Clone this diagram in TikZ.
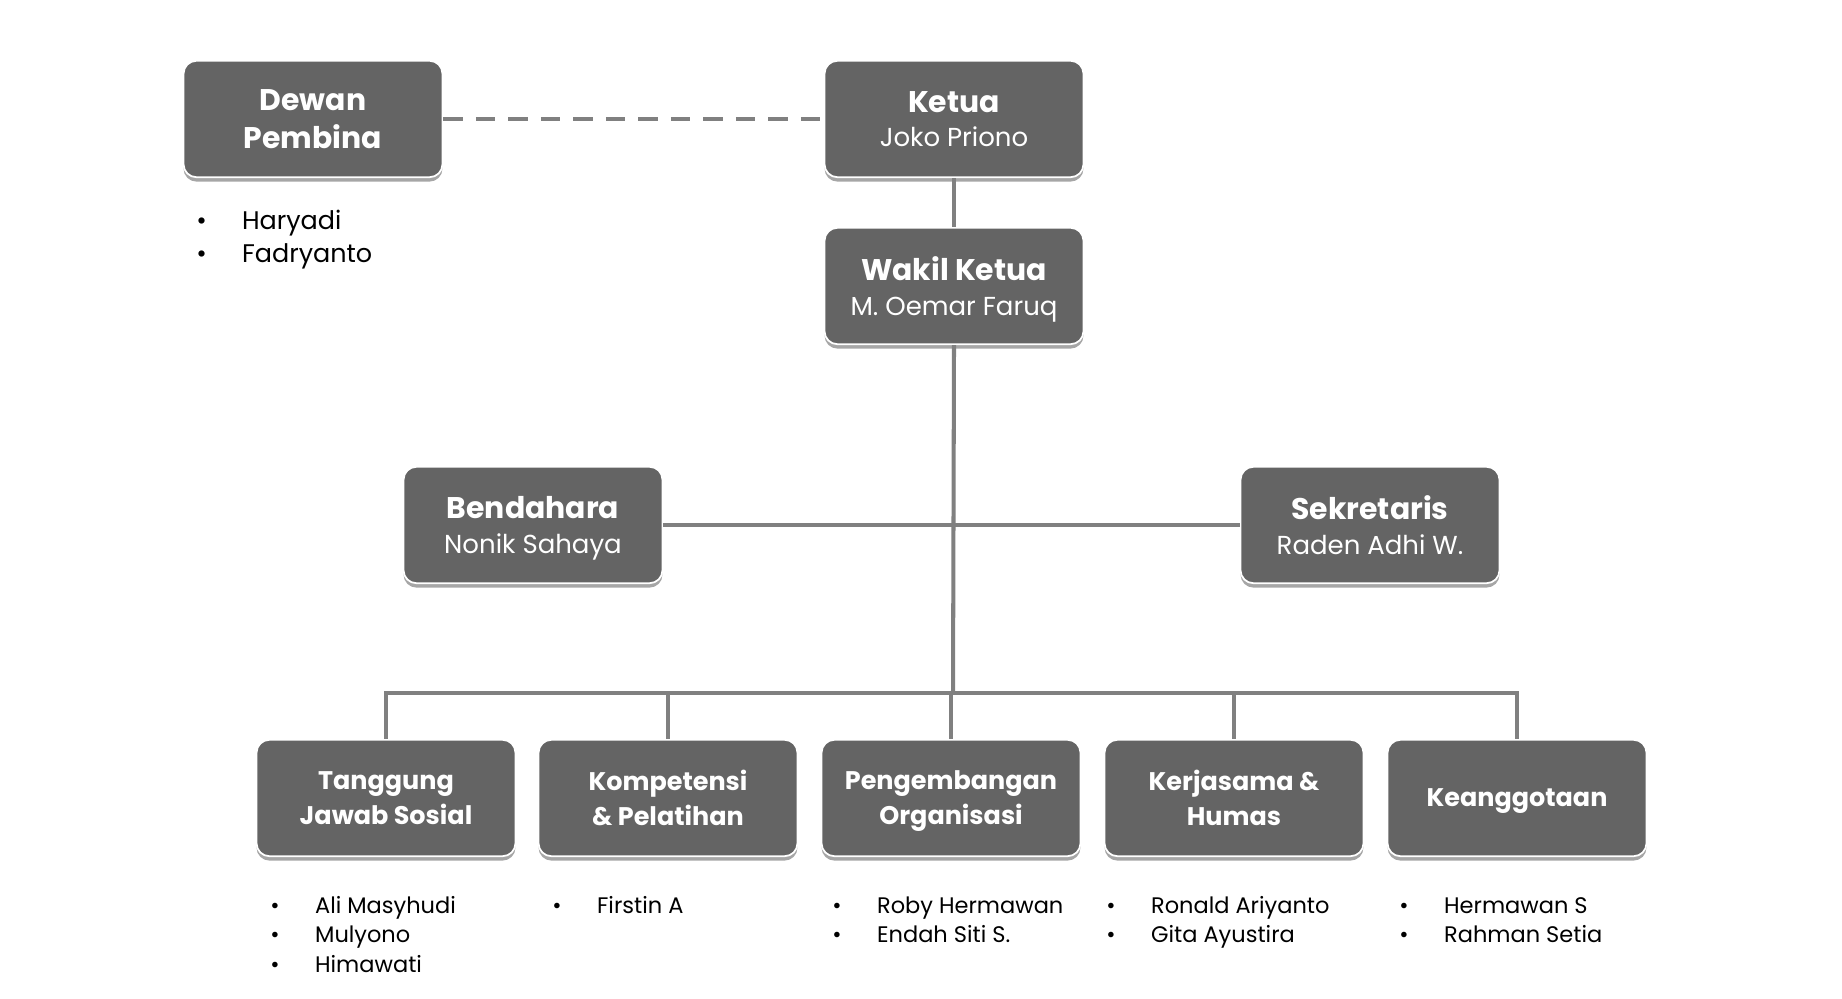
\documentclass[tikz,border=0pt]{standalone}
\usepackage{fontspec}
\setmainfont{Poppins}
\usetikzlibrary{shadows}
\definecolor{boxgray}{RGB}{100,100,100}
\definecolor{linegray}{RGB}{128,128,128}
\tikzstyle{unit}=[rectangle,rounded corners=7.4pt,fill=boxgray,draw=white,line width=1pt,
  text=white,minimum width=147.4pt,minimum height=66.3pt,align=center,text depth=0pt,
  font=\fontsize{17}{19.5}\selectfont,
  drop shadow={shadow xshift=0pt,shadow yshift=-2.5pt,opacity=0.35,fill=black}]
\tikzstyle{section}=[unit,font=\fontsize{14.5}{20}\selectfont\bfseries]
\tikzstyle{edge} = [draw,linegray,line width=2.3pt]
\tikzstyle{link} = [edge,dash pattern=on 11pt off 7.5pt]
\tikzstyle{member} = [anchor=base west,inner sep=0pt,font=\fontsize{12.8}{16}\selectfont]
\newcommand{\who}[2]{\textbf{#1}\\{\fontsize{14.8}{16}\selectfont #2}}

\begin{document}
\begin{tikzpicture}[x=0.02cm,y=-0.02cm]
	\useasboundingbox (0,0) rectangle (1842,999);

	% Draw the board
	\node[unit,font=\fontsize{17}{21.5}\selectfont\bfseries] (dewan) at (313,119) {Dewan\\Pembina};
	\node[unit] (ketua) at (954,119) {\who{Ketua}{Joko Priono}};
	\node[unit] (wakil) at (954,286) {\who{Wakil Ketua}{M. Oemar Faruq}};
	\node[unit] (bendahara) at (533,525) {\who{Bendahara}{Nonik Sahaya}};
	\node[unit] (sekretaris) at (1370,525) {\who{Sekretaris}{Raden Adhi W.}};

	% Draw the sections
	\foreach \pos/\name/\label in {{(386,798)/tjs/{Tanggung\\Jawab Sosial}},
		{(668,798)/kp/{Kompetensi\\\& Pelatihan}}, {(951,798)/po/{Pengembangan\\Organisasi}},
		{(1234,798)/kh/{Kerjasama \&\\Humas}}, {(1517,798)/kag/{Keanggotaan}}}
		\node[section] (\name) at \pos {\label};

	% Connect the units
	\coordinate (bus) at (953,693);
	\path[link] (dewan.east) -- (ketua.west);
	\path[edge] (ketua.south) -- (wakil.north);
	\path[edge] (wakil.south) -- (bus);
	\path[edge] (bendahara.east) -- (sekretaris.west);
	\path[edge] (tjs.north) |- (bus) -| (kag.north);
	\foreach \name in {kp,po,kh}
		\path[edge] (\name.north) -- (\name.north |- bus);

	% Members
	\foreach \pos/\member [count=\i] in {{(196,230)/Haryadi}, {(196,263)/Fadryanto},
		{(270,913)/Ali Masyhudi}, {(270,942)/Mulyono}, {(270,972)/Himawati},
		{(552,913)/Firstin A},
		{(832,913)/Roby Hermawan}, {(832,942)/Endah Siti S.},
		{(1106,913)/Ronald Ariyanto}, {(1106,942)/Gita Ayustira},
		{(1399,913)/Hermawan S}, {(1399,942)/Rahman Setia}}
		\node[member,font=\fontsize{\ifnum\i<3 14.5\else 12.8\fi}{16}\selectfont] (m\i) at \pos
			{\makebox[\ifnum\i<3 26pt\else 25.5pt\fi][l]{\textbullet}\member};
\end{tikzpicture}
\end{document}
